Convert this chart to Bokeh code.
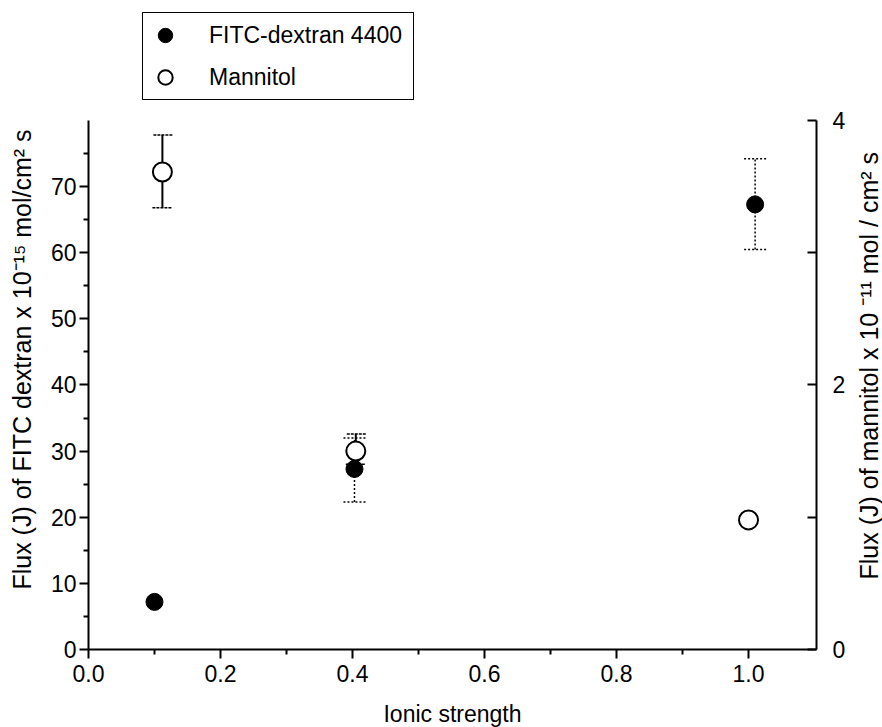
import math
from bokeh.plotting import figure
from bokeh.models import (Range1d, LinearAxis, FixedTicker, ColumnDataSource, Whisker,
                          TeeHead, Legend, LegendItem, Label)
from bokeh.embed import file_html
from bokeh.resources import INLINE

# ---- data ----
fitc_x = [0.10, 0.403, 1.01]
fitc_y = [7.2, 27.3, 67.3]
fitc_err_x = [0.403, 1.01]
fitc_upper = [32.0, 74.2]
fitc_lower = [22.3, 60.5]

mann_x = [0.112, 0.405, 1.0]
mann_y = [3.61, 1.50, 0.98]
mann_err_x = [0.112, 0.405]
mann_upper = [3.89, 1.63]
mann_lower = [3.34, 1.40]

left_ticks = [0, 10, 20, 30, 40, 50, 60, 70]
left_minor = [5, 15, 25, 35, 45, 55, 65, 75]
right_ticks = [0, 2, 4]
right_minor = [1, 3]
x_ticks = [0.0, 0.2, 0.4, 0.6, 0.8, 1.0]
x_tick_labels = ["0.0", "0.2", "0.4", "0.6", "0.8", "1.0"]
x_minor = [0.1, 0.3, 0.5, 0.7, 0.9]

left_title = "Flux (J) of FITC dextran x 10⁻¹⁵ mol/cm² s"
right_title = "Flux (J) of mannitol x 10 ⁻¹¹ mol / cm² s"
x_title = "Ionic strength"

FONT = "Liberation Sans"
X_END = 1.103                     # where the right axis stands
Y_AX_TOP, R_AX_TOP = 80, 4        # drawn extent of the two y axes
# the frame covers the whole canvas; axes are pinned at data locations
X_LO, X_HI = -0.1333, 1.2030
Y_LO, Y_HI = -11.79, 98.13
R_LO, R_HI = Y_LO / 20.0, Y_HI / 20.0

p = figure(width=882, height=727, output_backend="svg", toolbar_location=None,
           x_range=Range1d(X_LO, X_HI), y_range=Range1d(Y_LO, Y_HI),
           min_border=0, x_axis_type=None, y_axis_type=None)
p.outline_line_color = None
p.xgrid.visible = False
p.ygrid.visible = False
p.extra_y_ranges = {"right": Range1d(R_LO, R_HI)}

def style_axis(ax):
    ax.axis_line_width = 2
    ax.axis_line_color = "black"
    ax.major_tick_line_width = 2
    ax.minor_tick_line_width = 2
    ax.major_tick_line_color = "black"
    ax.minor_tick_line_color = "black"
    ax.major_label_text_font = FONT
    ax.major_label_text_font_size = "23px"
    ax.major_label_text_color = "black"

xax = LinearAxis(ticker=FixedTicker(ticks=x_ticks, minor_ticks=x_minor),
                 fixed_location=0, bounds=(0, X_END))
style_axis(xax)
xax.major_label_overrides = {t: s for t, s in zip(x_ticks, x_tick_labels)}
xax.major_tick_in = 0
xax.major_tick_out = 9
xax.minor_tick_in = 0
xax.minor_tick_out = 5
xax.major_label_standoff = 6
p.add_layout(xax, "below")

yax = LinearAxis(ticker=FixedTicker(ticks=left_ticks, minor_ticks=left_minor),
                 fixed_location=0, bounds=(0, Y_AX_TOP))
style_axis(yax)
yax.major_tick_in = 0
yax.major_tick_out = 9
yax.minor_tick_in = 0
yax.minor_tick_out = 5
yax.major_label_standoff = 3
p.add_layout(yax, "left")

rax = LinearAxis(y_range_name="right", ticker=FixedTicker(ticks=right_ticks, minor_ticks=right_minor),
                 fixed_location=X_END, bounds=(0, R_AX_TOP))
style_axis(rax)
rax.major_tick_in = 9
rax.major_tick_out = 0
rax.minor_tick_in = 9
rax.minor_tick_out = 0
rax.major_label_standoff = 16
p.add_layout(rax, "right")

# axis titles
p.add_layout(Label(x=-0.10, y=43.85, text=left_title, angle=math.pi / 2,
                   text_align="center", text_baseline="middle",
                   text_font=FONT, text_font_size="25px", text_color="black"))
p.add_layout(Label(x=1.1818, y=42.9, text=right_title, angle=math.pi / 2,
                   text_align="center", text_baseline="middle",
                   text_font=FONT, text_font_size="25px", text_color="black"))
p.add_layout(Label(x=0.5515, y=-9.68, text=x_title,
                   text_align="center", text_baseline="middle",
                   text_font=FONT, text_font_size="23px", text_color="black"))

# error bars
fsrc = ColumnDataSource(dict(x=fitc_err_x, upper=fitc_upper, lower=fitc_lower))
fw = Whisker(base="x", upper="upper", lower="lower", source=fsrc, dimension="height",
             line_color="black", line_width=1.5, line_dash="2 2",
             upper_head=TeeHead(size=22, line_width=1.5, line_dash="2 2", line_color="black"),
             lower_head=TeeHead(size=22, line_width=1.5, line_dash="2 2", line_color="black"))
p.add_layout(fw)

msrc = ColumnDataSource(dict(x=mann_err_x, upper=mann_upper, lower=mann_lower))
mw = Whisker(base="x", upper="upper", lower="lower", source=msrc, dimension="height",
             y_range_name="right", line_color="black", line_width=2,
             upper_head=TeeHead(size=20, line_width=1.5, line_dash="3 1", line_color="black"),
             lower_head=TeeHead(size=20, line_width=1.5, line_dash="3 1", line_color="black"))
p.add_layout(mw)

r_m = p.scatter(mann_x, mann_y, marker="circle", size=19, fill_color="white",
                line_color="black", line_width=2, y_range_name="right")
r_f = p.scatter(fitc_x, fitc_y, marker="circle", size=17, fill_color="black",
                line_color="black", line_width=1)

legend = Legend(items=[LegendItem(label="FITC-dextran 4400", renderers=[r_f]),
                       LegendItem(label="Mannitol", renderers=[r_m])],
                location=(142, 627))
legend.border_line_color = "black"
legend.border_line_alpha = 1.0
legend.border_line_width = 1.5
legend.background_fill_color = "white"
legend.background_fill_alpha = 1.0
legend.label_text_font = FONT
legend.label_text_font_size = "23px"
legend.label_text_color = "black"
legend.glyph_width = 36
legend.glyph_height = 36
legend.label_height = 36
legend.label_width = 200
legend.spacing = 6
legend.padding = 4
legend.label_standoff = 26
legend.margin = 0
p.add_layout(legend, "center")

open("out.html", "w").write(file_html(p, INLINE))
